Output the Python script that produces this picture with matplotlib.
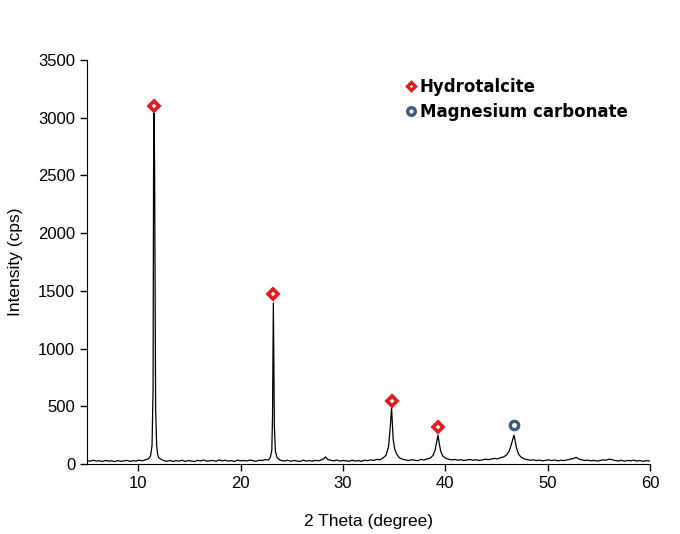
import numpy as np
import matplotlib.pyplot as plt
from matplotlib.lines import Line2D

plt.rcParams['font.family'] = ['Liberation Sans', 'DejaVu Sans']

# XRD pattern (2 theta in degree, intensity in cps)
two_theta = [
    5.0, 5.3, 5.6, 5.9, 6.2, 6.5, 6.8, 7.1, 7.4, 7.7, 8.0, 8.3, 8.6, 8.9, 9.2, 9.5,
    9.8, 10.1, 10.4, 10.7, 11.0, 11.2, 11.35, 11.45, 11.5, 11.55, 11.6, 11.65, 11.7,
    11.8, 11.9, 12.0, 12.2, 12.5, 12.8, 13.1, 13.4, 13.7, 14.0, 14.3, 14.6, 14.9,
    15.2, 15.5, 15.8, 16.1, 16.4, 16.7, 17.0, 17.3, 17.6, 17.9, 18.2, 18.5, 18.8,
    19.1, 19.4, 19.7, 20.0, 20.3, 20.6, 20.9, 21.2, 21.5, 21.8, 22.1, 22.4, 22.7,
    22.9, 23.05, 23.12, 23.17, 23.2, 23.24, 23.3, 23.4, 23.55, 23.7, 24.0, 24.3,
    24.6, 24.9, 25.2, 25.5, 25.8, 26.1, 26.4, 26.7, 27.0, 27.3, 27.6, 27.9, 28.1,
    28.3, 28.5, 28.8, 29.1, 29.4, 29.7, 30.0, 30.3, 30.6, 30.9, 31.2, 31.5, 31.8,
    32.1, 32.4, 32.7, 33.0, 33.3, 33.6, 33.9, 34.2, 34.45, 34.6, 34.7, 34.75, 34.82,
    34.9, 35.05, 35.25, 35.5, 35.8, 36.1, 36.4, 36.7, 37.0, 37.3, 37.6, 37.9, 38.2,
    38.5, 38.8, 39.0, 39.15, 39.28, 39.4, 39.55, 39.75, 40.0, 40.3, 40.6, 40.9,
    41.2, 41.5, 41.8, 42.1, 42.4, 42.7, 43.0, 43.3, 43.6, 43.9, 44.2, 44.5, 44.8,
    45.1, 45.4, 45.7, 46.0, 46.25, 46.45, 46.6, 46.7, 46.8, 46.95, 47.15, 47.4,
    47.7, 48.0, 48.3, 48.6, 48.9, 49.2, 49.5, 49.8, 50.1, 50.4, 50.7, 51.0, 51.3,
    51.6, 51.9, 52.2, 52.5, 52.8, 53.0, 53.3, 53.6, 53.9, 54.2, 54.5, 54.8, 55.1,
    55.4, 55.7, 56.0, 56.3, 56.6, 56.9, 57.2, 57.5, 57.8, 58.1, 58.4, 58.7, 59.0,
    59.3, 59.6, 59.9, 60.0,
]
intensity = [
    30, 24, 33, 26, 29, 22, 31, 25, 28, 21, 30, 24, 27, 32, 23, 29,
    26, 34, 28, 36, 45, 70, 160, 650, 2560, 3040, 2560, 1450, 480,
    160, 85, 55, 42, 30, 24, 31, 22, 29, 25, 33, 23, 30,
    26, 22, 32, 27, 35, 24, 29, 31, 23, 36, 27, 33, 25,
    30, 22, 34, 28, 31, 26, 35, 29, 24, 33, 30, 38, 35,
    55, 120, 420, 1100, 1395, 1000, 320, 110, 60, 42, 30, 26,
    33, 24, 31, 27, 22, 34, 26, 30, 25, 32, 28, 36, 45,
    62, 40, 33, 27, 35, 25, 31, 28, 24, 33, 26, 30, 23,
    34, 29, 36, 31, 40, 38, 52, 75, 150, 300, 430, 485, 360,
    220, 130, 85, 55, 42, 36, 30, 38, 33, 29, 40, 35, 44,
    50, 75, 120, 190, 250, 180, 110, 70, 52, 42, 36, 40,
    33, 38, 30, 35, 40, 33, 37, 31, 36, 42, 38, 44, 49,
    45, 55, 62, 80, 115, 170, 220, 250, 210, 140, 85, 60,
    45, 38, 33, 36, 30, 34, 28, 32, 36, 30, 35, 28, 33,
    30, 36, 42, 48, 58, 45, 37, 31, 34, 28, 32, 26, 30,
    36, 33, 42, 38, 30, 27, 33, 25, 31, 28, 34, 26, 30,
    24, 29, 27, 26,
]

# peak markers
hydro_x = [11.55, 23.2, 34.75, 39.28]
hydro_y = [3100, 1470, 550, 320]
mgco3_x = [46.7]
mgco3_y = [335]

fig, ax = plt.subplots(figsize=(6.8, 5.34), dpi=100)
fig.subplots_adjust(left=0.128, right=0.956, top=0.888, bottom=0.131)

ax.plot(two_theta, intensity, color='black', lw=0.9)
ax.plot(hydro_x, hydro_y, ls='none', marker='D', ms=5, mfc='white', mec='#e8191e', mew=2.6)
ax.plot(mgco3_x, mgco3_y, ls='none', marker='o', ms=6, mfc='white', mec='#3e5a7e', mew=2.4)

ax.set_xlim(5, 60)
ax.set_ylim(0, 3500)
ax.set_xticks([10, 20, 30, 40, 50, 60])
ax.set_yticks(np.arange(0, 3501, 500))
ax.spines['top'].set_visible(False)
ax.spines['right'].set_visible(False)
ax.tick_params(direction='out', length=5, labelsize=12, width=1)
ax.set_xlabel('2 Theta (degree)', fontsize=12.5, labelpad=17)
ax.set_ylabel('Intensity (cps)', fontsize=12.5, labelpad=11)

handles = [
    Line2D([], [], ls='none', marker='D', ms=4.5, mfc='white', mec='#e8191e', mew=2.4),
    Line2D([], [], ls='none', marker='o', ms=5.5, mfc='white', mec='#3e5a7e', mew=2.4),
]
leg = ax.legend(handles, ['Hydrotalcite', 'Magnesium carbonate'], loc='upper left',
                bbox_to_anchor=(0.545, 0.985), frameon=False, handlelength=0.6,
                handletextpad=0.25, labelspacing=0.42, borderaxespad=0.3,
                prop={'family': 'DejaVu Sans', 'weight': 'bold', 'size': 12})

fig.savefig('out.png', dpi=100)
